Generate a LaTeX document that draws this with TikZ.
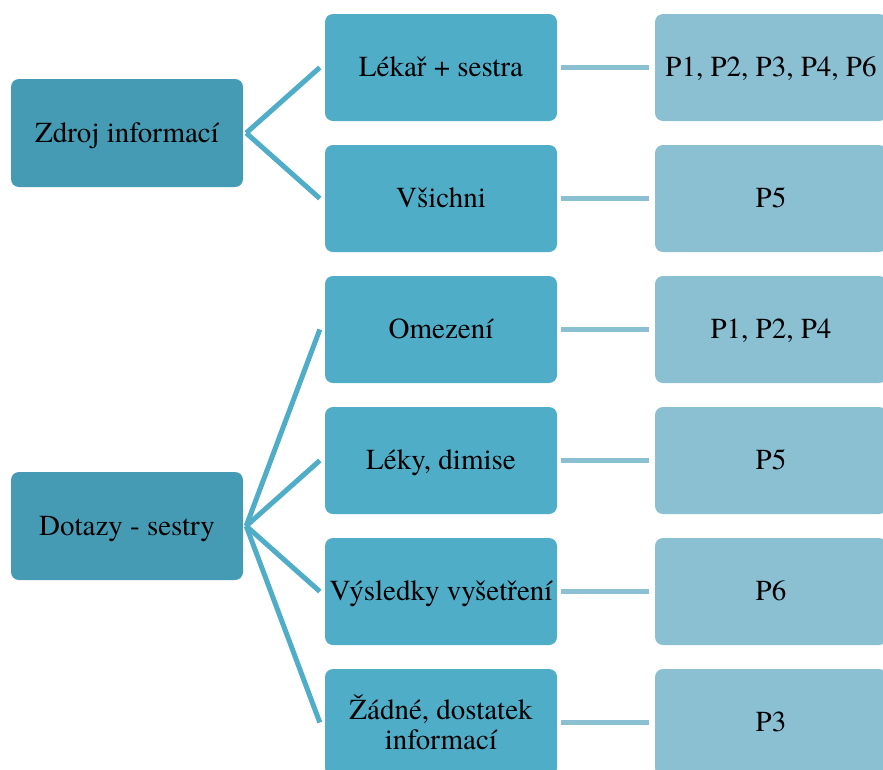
\documentclass[tikz,border=0pt]{standalone}
\usepackage{fontspec}
\setmainfont{TeX Gyre Termes}
\usetikzlibrary{calc}
\definecolor{rootc}{RGB}{69,155,179}
\definecolor{midc}{RGB}{79,173,199}
\definecolor{leafc}{RGB}{139,192,211}
\tikzset{
  box/.style={rectangle, rounded corners=8pt, minimum width=232pt, inner sep=0pt,
    align=center, text=black, font=\rmfamily\fontsize{29}{30}\selectfont},
  oneline/.style={text height=24pt, text depth=6pt},
  rootbox/.style={box, oneline, fill=rootc, minimum height=108pt},
  midbox/.style={box, fill=midc, minimum height=107pt},
  leafbox/.style={box, oneline, fill=leafc, minimum height=107pt},
  branch/.style={draw=midc, line width=5pt},
  twig/.style={draw=leafc, line width=5pt},
}
\begin{document}
\begin{tikzpicture}[x=1pt,y=-1pt]
\useasboundingbox (0,0) rectangle (883,769);
% first tree
\node[rootbox] (z) at (127,133) {Zdroj informací};
\node[midbox, oneline] (m1) at (441,67.5) {Lékař + sestra};
\node[midbox, oneline] (m2) at (441,198.5) {Všichni};
\node[leafbox] (l1) at (771,67.5) {P1, P2, P3, P4, P6};
\node[leafbox] (l2) at (771,198.5) {P5};
% second tree
\node[rootbox] (d) at (127,526) {Dotazy - sestry};
\node[midbox, oneline] (m3) at (441,329.5) {Omezení};
\node[midbox, oneline] (m4) at (441,460.5) {Léky, dimise};
\node[midbox, oneline] (m5) at (441,591.5) {Výsledky vyšetření};
\node[midbox] (m6) at (441,722.5) {Žádné, dostatek\\informací};
\node[leafbox] (l3) at (771,329.5) {P1, P2, P4};
\node[leafbox] (l4) at (771,460.5) {P5};
\node[leafbox] (l5) at (771,591.5) {P6};
\node[leafbox] (l6) at (771,722.5) {P3};
% branches from the roots
\foreach \r/\m in {z/m1,z/m2,d/m3,d/m4,d/m5,d/m6}
  \draw[branch] ($(\r.east)+(3,0)$) -- ($(\m.west)+(-5,0)$);
% twigs to the leaves
\foreach \m/\l in {m1/l1,m2/l2,m3/l3,m4/l4,m5/l5,m6/l6}
  \draw[twig] ($(\m.east)+(4,0)$) -- ($(\l.west)+(-6,0)$);
\end{tikzpicture}
\end{document}
